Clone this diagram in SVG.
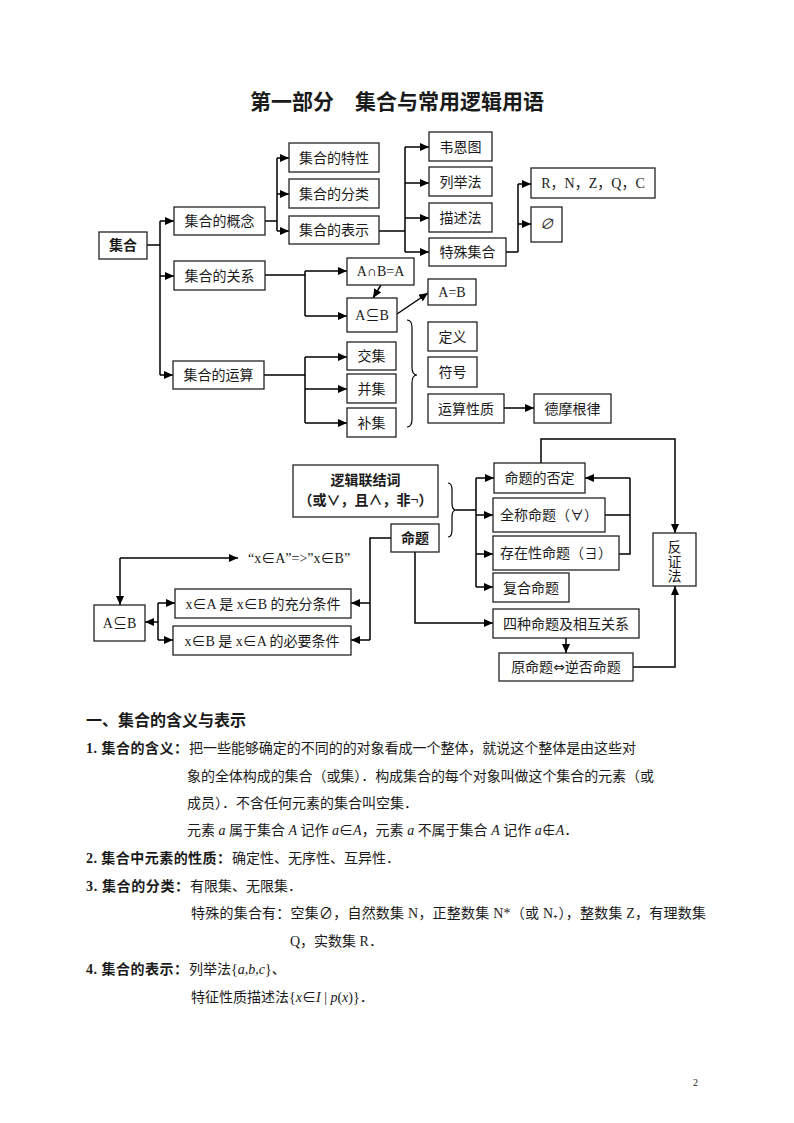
<svg xmlns="http://www.w3.org/2000/svg" width="794" height="1123" viewBox="0 0 794 1123">
<style>
text{font-family:"Liberation Serif","Noto Sans CJK SC",serif;fill:#1a1a1a}
.b rect{fill:#fff;stroke:#222;stroke-width:1.3}
.b text{font-size:14px;text-anchor:middle}
.bold{font-weight:bold}
.c path{fill:none;stroke:#000;stroke-width:1.5}
.c .a{marker-end:url(#ah)}
.t{font-size:14px}
.i{font-style:italic}
.dj{font-family:"DejaVu Sans",sans-serif}
</style>
<defs>
<marker id="ah" markerUnits="userSpaceOnUse" markerWidth="9" markerHeight="8" refX="9" refY="4" orient="auto">
<path d="M0,0 L9,4 L0,8 z" fill="#000"/>
</marker>
</defs>
<rect width="794" height="1123" fill="#fff"/>
<text x="397" y="109" font-size="21" font-weight="bold" text-anchor="middle">第一部分　集合与常用逻辑用语</text>

<g class="c">
<path d="M147,245 H160 M160,221 V375"/>
<path class="a" d="M160,221 H174"/>
<path class="a" d="M160,276 H174"/>
<path class="a" d="M160,375 H173"/>
<path d="M265,221 H277 M277,158 V231"/>
<path class="a" d="M277,158 H289"/>
<path class="a" d="M277,194 H289"/>
<path class="a" d="M277,231 H289"/>
<path d="M379,231 H405 M405,147 V252"/>
<path class="a" d="M405,147 H429"/>
<path class="a" d="M405,183 H429"/>
<path class="a" d="M405,218 H429"/>
<path class="a" d="M405,252 H429"/>
<path d="M506,252 H518 M518,184 V252"/>
<path class="a" d="M518,184 H531"/>
<path class="a" d="M518,224 H531"/>
<path d="M265,275 H305 M305,271 V316"/>
<path class="a" d="M305,271 H347"/>
<path class="a" d="M305,316 H347"/>
<path class="a" d="M381,285 L373,298"/>
<path class="a" d="M397,314 L428,293"/>
<path d="M264,375 H305 M305,357 V423"/>
<path class="a" d="M305,357 H347"/>
<path class="a" d="M305,389 H347"/>
<path class="a" d="M305,423 H347"/>
<path style="stroke-width:1.2" d="M407,320 Q412,320 412,328 V367 Q412,375 417,375 Q412,375 412,383 V419 Q412,427 407,427"/>
<path class="a" d="M504,408 H534"/>

<path style="stroke-width:1.2" d="M448,483 Q452,483 452,490 V503 Q452,510 456,510 Q452,510 452,517 V530 Q452,537 448,537"/>
<path d="M456,510 H476 M476,478 V587"/>
<path class="a" d="M476,478 H494"/>
<path class="a" d="M476,515 H493"/>
<path class="a" d="M476,554 H493"/>
<path class="a" d="M476,587 H493"/>
<path d="M605,515 H630 M619,554 H630 V478"/>
<path class="a" d="M630,478 H585"/>
<path class="a" d="M541,463 V439 H675 V533"/>
<path class="a" d="M633,667 H675 V586"/>
<path class="a" d="M415,552 V623 H493"/>
<path class="a" d="M566,638 V653"/>
<path d="M391,538 H370 V640"/>
<path class="a" d="M370,603 H351"/>
<path class="a" d="M370,640 H351"/>
<path d="M158,603 V640"/>
<path class="a" d="M158,603 H175"/>
<path class="a" d="M158,640 H173"/>
<path class="a" d="M158,622 H145"/>
<path class="a" d="M120,558 V605"/>
<path class="a" d="M120,558 H238"/>
</g>

<g class="b">
<g id="n-jihe"><rect x="99" y="232" width="48" height="27"/><text x="123" y="250" class="bold">集合</text></g>
<g id="n-gainian"><rect x="174" y="207" width="91" height="28"/><text x="219.5" y="226">集合的概念</text></g>
<g id="n-guanxi"><rect x="174" y="261" width="91" height="29"/><text x="219.5" y="281">集合的关系</text></g>
<g id="n-yunsuan"><rect x="173" y="361" width="91" height="28"/><text x="218.5" y="380">集合的运算</text></g>
<g id="n-texing"><rect x="289" y="143" width="90" height="29"/><text x="334" y="163">集合的特性</text></g>
<g id="n-fenlei"><rect x="289" y="179" width="90" height="29"/><text x="334" y="199">集合的分类</text></g>
<g id="n-biaoshi"><rect x="289" y="216" width="90" height="28"/><text x="334" y="235">集合的表示</text></g>
<g id="n-venn"><rect x="429" y="132" width="63" height="29"/><text x="460.5" y="152">韦恩图</text></g>
<g id="n-lieju"><rect x="429" y="167" width="63" height="29"/><text x="460.5" y="187">列举法</text></g>
<g id="n-miaoshu"><rect x="429" y="203" width="63" height="29"/><text x="460.5" y="223">描述法</text></g>
<g id="n-teshu"><rect x="429" y="238" width="77" height="28"/><text x="467.5" y="257">特殊集合</text></g>
<g id="n-rnzqc"><rect x="531" y="168" width="124" height="30"/><text x="593" y="188">R，N，Z，Q，C</text></g>
<g id="n-empty"><rect x="531" y="207" width="31" height="35"/><text x="546.5" y="229" class="i">∅</text></g>
<g id="n-anb"><rect x="347" y="258" width="67" height="27"/><text x="380.5" y="276">A∩B=A</text></g>
<g id="n-asubb"><rect x="347" y="298" width="50" height="34"/><text x="372" y="320">A⊆B</text></g>
<g id="n-aeqb"><rect x="428" y="279" width="48" height="26"/><text x="452" y="297">A=B</text></g>
<g id="n-jiao"><rect x="347" y="342" width="49" height="28"/><text x="371.5" y="361">交集</text></g>
<g id="n-bing"><rect x="347" y="374" width="49" height="29"/><text x="371.5" y="394">并集</text></g>
<g id="n-bu"><rect x="347" y="408" width="49" height="29"/><text x="371.5" y="428">补集</text></g>
<g id="n-dingyi"><rect x="428" y="322" width="49" height="29"/><text x="452.5" y="342">定义</text></g>
<g id="n-fuhao"><rect x="428" y="357" width="49" height="30"/><text x="452.5" y="377">符号</text></g>
<g id="n-xingzhi"><rect x="428" y="394" width="76" height="29"/><text x="466" y="414">运算性质</text></g>
<g id="n-demogen"><rect x="534" y="394" width="77" height="29"/><text x="572.5" y="414">德摩根律</text></g>

<g id="n-luoji"><rect x="293" y="465" width="145" height="52"/><text x="365.5" y="485" class="bold">逻辑联结词</text><text x="365.5" y="505" class="bold">（或∨，且∧，非¬）</text></g>
<g id="n-mingti"><rect x="391" y="524" width="48" height="28"/><text x="415" y="543" class="bold">命题</text></g>
<g id="n-fouding"><rect x="494" y="463" width="91" height="30"/><text x="539.5" y="483">命题的否定</text></g>
<g id="n-quancheng"><rect x="493" y="498" width="112" height="34"/><text x="549" y="520">全称命题（∀）</text></g>
<g id="n-cunzai"><rect x="493" y="536" width="126" height="34"/><text x="556" y="558">存在性命题（∃）</text></g>
<g id="n-fuhe"><rect x="493" y="573" width="76" height="29"/><text x="531" y="593">复合命题</text></g>
<g id="n-fanzheng"><rect x="653" y="533" width="43" height="53"/><text x="674.5" y="552">反</text><text x="674.5" y="567">证</text><text x="674.5" y="581">法</text></g>
<g id="n-sizhong"><rect x="493" y="609" width="146" height="29"/><text x="566" y="629">四种命题及相互关系</text></g>
<g id="n-yuan"><rect x="499" y="653" width="134" height="28"/><text x="566" y="672">原命题<tspan class="dj">⇔</tspan>逆否命题</text></g>
<g id="n-chongfen"><rect x="175" y="589" width="176" height="29"/><text x="263" y="609">x∈A 是 x∈B 的充分条件</text></g>
<g id="n-biyao"><rect x="173" y="626" width="178" height="29"/><text x="262" y="646">x∈B 是 x∈A 的必要条件</text></g>
<g id="n-asubb2"><rect x="94" y="605" width="51" height="36"/><text x="119.5" y="628">A⊆B</text></g>
</g>
<text x="248" y="563" class="t">“x∈A”=&gt;”x∈B”</text>

<g id="body" class="t">
<text x="86" y="726" font-size="16" font-weight="bold">一、集合的含义与表示</text>
<text x="86" y="753" class="bold" textLength="102" lengthAdjust="spacing">1. 集合的含义：</text>
<text x="189" y="753" textLength="447" lengthAdjust="spacing">把一些能够确定的不同的的对象看成一个整体，就说这个整体是由这些对</text>
<text x="187" y="781" textLength="467" lengthAdjust="spacing">象的全体构成的集合（或集）．构成集合的每个对象叫做这个集合的元素（或</text>
<text x="187" y="808">成员）．不含任何元素的集合叫空集．</text>
<text x="187" y="835">元素 <tspan class="i">a</tspan> 属于集合 <tspan class="i">A</tspan> 记作 <tspan class="i">a</tspan>∈<tspan class="i">A</tspan>，元素 <tspan class="i">a</tspan> 不属于集合 <tspan class="i">A</tspan> 记作 <tspan class="i">a</tspan>∉<tspan class="i">A</tspan>．</text>
<text x="86" y="863" class="bold" textLength="145" lengthAdjust="spacing">2. 集合中元素的性质：</text>
<text x="232" y="863">确定性、无序性、互异性．</text>
<text x="86" y="891" class="bold" textLength="103" lengthAdjust="spacing">3. 集合的分类：</text>
<text x="190" y="891">有限集、无限集．</text>
<text x="191" y="918" textLength="515" lengthAdjust="spacing">特殊的集合有：空集∅，自然数集 N，正整数集 N*（或 N₊），整数集 Z，有理数集</text>
<text x="290" y="946">Q，实数集 R．</text>
<text x="86" y="974" class="bold" textLength="102" lengthAdjust="spacing">4. 集合的表示：</text>
<text x="189" y="974">列举法{<tspan class="i">a</tspan>,<tspan class="i">b</tspan>,<tspan class="i">c</tspan>}、</text>
<text x="191" y="1002">特征性质描述法{<tspan class="i">x</tspan>∈<tspan class="i">I</tspan> | <tspan class="i">p</tspan>(<tspan class="i">x</tspan>)}．</text>
</g>
<text x="693" y="1086" font-size="10">2</text>
</svg>
